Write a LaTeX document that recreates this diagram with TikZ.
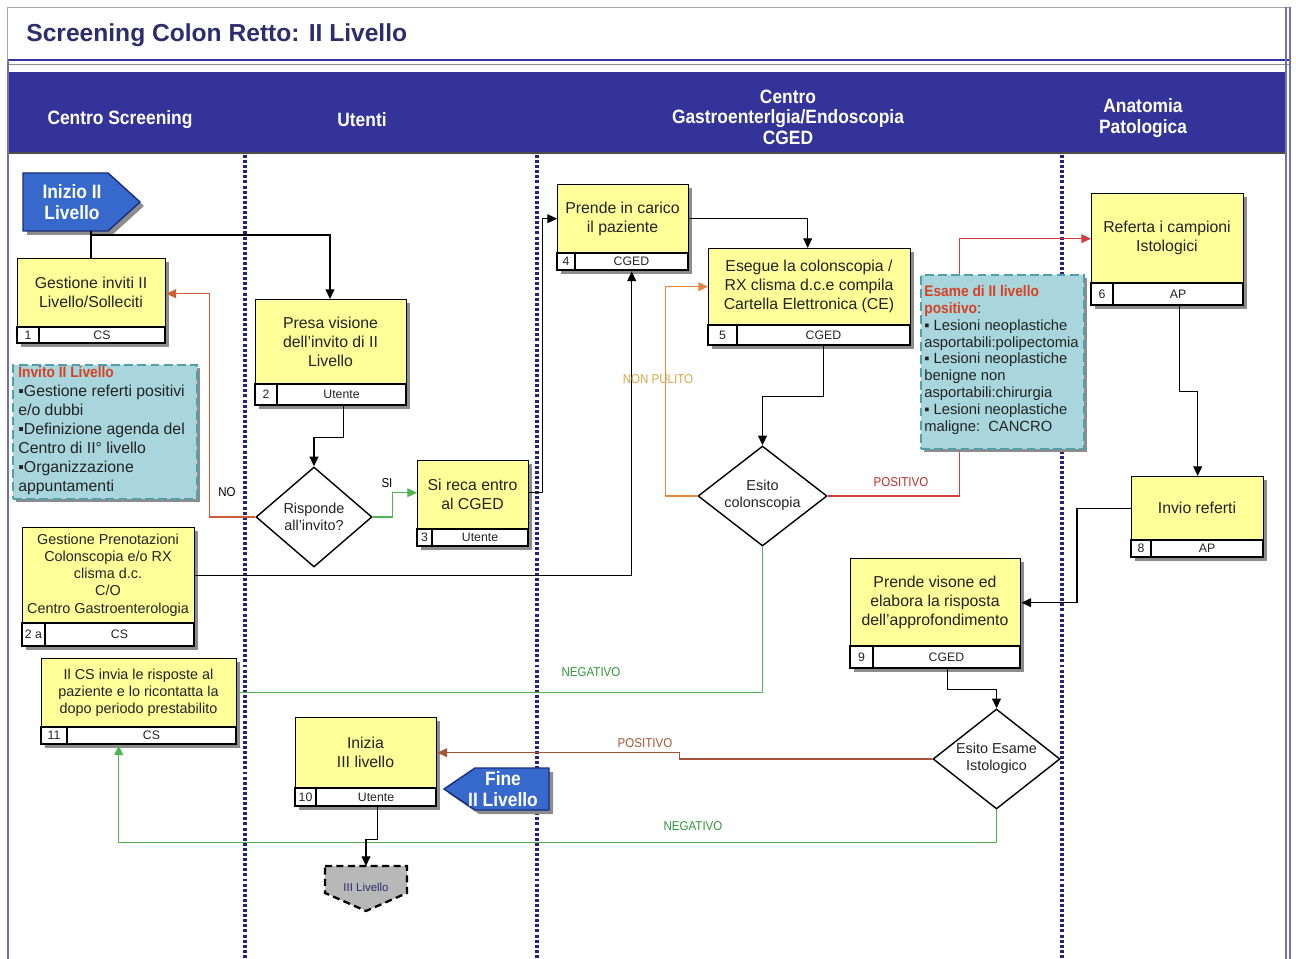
\documentclass[tikz,border=0pt]{standalone}
\usepackage{fontspec}
\setmainfont{Liberation Sans}
\newfontfamily\hdrfont{Liberation Sans}[FakeStretch=0.9]
\usetikzlibrary{arrows.meta,calc,shapes.geometric}
\definecolor{band}{RGB}{51,51,153}
\definecolor{titc}{RGB}{45,45,110}
\definecolor{boxy}{RGB}{255,255,153}
\definecolor{notef}{RGB}{168,214,220}
\definecolor{noted}{RGB}{80,160,172}
\definecolor{pentf}{RGB}{55,105,205}
\definecolor{pentd}{RGB}{25,45,120}
\definecolor{divc}{RGB}{35,35,130}
\definecolor{grn}{RGB}{80,180,80}
\definecolor{grnt}{RGB}{50,150,60}
\definecolor{nored}{RGB}{205,95,55}
\definecolor{orng}{RGB}{228,135,60}
\definecolor{orngt}{RGB}{215,165,70}
\definecolor{posred}{RGB}{215,60,60}
\definecolor{posredt}{RGB}{185,45,45}
\definecolor{brn}{RGB}{165,85,55}
\definecolor{ntitle}{RGB}{215,65,35}
\definecolor{shad}{RGB}{140,140,140}
\definecolor{txtc}{RGB}{35,35,35}
\def\bfsz{9}\def\bfsk{10.8}
\newcommand\pbox[9]{%
  \fill[shad] ($(#2,#3)+(4,4)$) rectangle ($(#4,#5)+(4,4)$);
  \node[pboxs, minimum width={(#4-#2)*0.02cm}, minimum height={(#5-#3)*0.02cm}, anchor=north west] (#1) at (#2,#3) {};
  \draw[line width=0.8pt, fill=white] (#2,#6) rectangle (#4,#5);
  \draw[line width=0.8pt] (#7,#6) -- (#7,#5);
  \node[strtxt] (#1n) at ({(#2+#7)/2},{(#6+#5)/2}) {#8};
  \node[strtxt] (#1o) at ({(#7+#4)/2},{(#6+#5)/2}) {#9};
  \node[btxt] (#1t) at ($(#2,#3)!0.5!(#4,#6)$)}
\begin{document}
\begin{tikzpicture}[x=0.02cm,y=-0.02cm,
  ln/.style={line width=0.75pt, draw=black},
  arr/.style={ln, -{Triangle[length=5.5pt,width=5pt]}},
  lnG/.style={line width=0.75pt, draw=grn},
  arrG/.style={lnG, -{Triangle[length=5.5pt,width=5pt]}},
  arrNO/.style={line width=0.75pt, draw=nored, -{Triangle[length=5.5pt,width=5pt]}},
  arrO/.style={line width=0.75pt, draw=orng, -{Triangle[length=5.5pt,width=5pt]}},
  arrR/.style={line width=0.75pt, draw=posred, -{Triangle[length=5.5pt,width=5pt]}},
  arrB/.style={line width=0.75pt, draw=brn, -{Triangle[length=5.5pt,width=5pt]}},
  pboxs/.style={rectangle, draw=black, line width=0.8pt, fill=boxy, inner sep=0pt},
  btxt/.style={font=\fontsize{\bfsz}{\bfsk}\selectfont, align=center, inner sep=0pt, text=txtc},
  strtxt/.style={font=\fontsize{7}{8}\selectfont, inner sep=0pt, text=txtc},
  dia/.style={diamond, draw=black, line width=0.8pt, fill=white, inner sep=0pt},
  dtxt/.style={font=\fontsize{8.2}{9.8}\selectfont, align=center, inner sep=0pt, text=txtc},
  lbl/.style={font=\hdrfont\fontsize{7.3}{8}\selectfont, inner sep=0pt},
  hdr/.style={font=\hdrfont\bfseries\fontsize{11}{11.7}\selectfont, text=white, align=center, inner sep=0pt},
  ptxt/.style={font=\hdrfont\bfseries\fontsize{11}{12}\selectfont, text=white, align=center, inner sep=0pt},
  divl/.style={draw=divc, line width=2pt, dash pattern=on 1.7pt off 1.2pt},
  notebox/.style={rectangle, fill=notef, draw=noted, line width=1.3pt, dash pattern=on 5pt off 2.5pt, inner sep=0pt, anchor=north west},
  ]
\useasboundingbox (0,0) rectangle (1296,959);
\fill[white] (0,0) rectangle (1296,959);
% frame and title
\draw[black!35, line width=0.5pt] (7,60) -- (7,7) -- (1290,7);
\node[anchor=west, inner sep=0pt, text=titc, font=\bfseries\fontsize{14}{16}\selectfont] (title) at (26,35) {Screening Colon Retto: II Livello};
\draw[band, line width=1.6pt] (8,60) -- (1290,60);
\draw[black!45, line width=0.5pt] (8,64) -- (1290,64);
\fill[band] (8,72) rectangle (1286,153);
\draw[black!70, line width=0.6pt] (8,153) -- (1286,153);
\draw[band!70, line width=0.6pt] (8,60) -- (8,959);
\draw[band!70, line width=0.6pt] (1286,7) -- (1286,959);
\draw[band!70, line width=0.6pt] (1290,7) -- (1290,959);
% headers
\node[hdr] (h1) at (120,120) {Centro Screening};
\node[hdr] (h2) at (362,120) {Utenti};
\node[hdr] (h3) at (788,117) {Centro\\Gastroenterlgia/Endoscopia\\CGED};
\node[hdr] (h4) at (1143,118) {Anatomia\\Patologica};
% lane dividers
\draw[divl] (245,155) -- (245,959);
\draw[divl] (537,155) -- (537,959);
\draw[divl] (1062,155) -- (1062,959);
% start pentagon
\fill[shad] (27,177) -- (112,177) -- (144,206) -- (112,235) -- (27,235) -- cycle;
\draw[fill=pentf, draw=pentd, line width=0.8pt] (23,173) -- (108,173) -- (140,202) -- (108,231) -- (23,231) -- cycle;
\node[ptxt] (ini) at (72,202) {Inizio II\\Livello};
\coordinate (inib) at (91,231);
\coordinate (j1) at (91,235);
% end pentagon
\fill[shad] (479,772) -- (553,772) -- (553,814) -- (479,814) -- (448,793) -- cycle;
\draw[fill=pentf, draw=pentd, line width=0.8pt] (475,768) -- (549,768) -- (549,810) -- (475,810) -- (444,789) -- cycle;
\node[ptxt] (fine) at (503,789) {Fine\\II Livello};
% III livello off-page
\draw[fill=black!28, draw=black, line width=1.3pt, dash pattern=on 4pt off 2.5pt] (325,866) -- (407,866) -- (407,893) -- (366,911) -- (325,893) -- cycle;
\node[inner sep=0pt, text=titc, font=\fontsize{6.5}{7}\selectfont] (iii) at (366,887) {III Livello};
\coordinate (iiit) at (366,866);
% connectors
\draw[ln] (inib) -- (91,258);
\draw[arr] (j1) -| (330,299);
% boxes
\pbox{b1}{17}{258}{165}{343}{327}{39}{1}{CS} {Gestione inviti II\\Livello/Solleciti};
\pbox{b2}{255}{299}{406}{405}{384}{277}{2}{Utente} {Presa visione\\dell'invito di II\\Livello};
\pbox{b3}{417}{460}{528}{546}{529}{432}{3}{Utente} {Si reca entro\\al CGED};
\pbox{b4}{557}{184}{688}{270}{253}{575}{4}{CGED} {Prende in carico\\il paziente};
\pbox{b5}{708}{248}{910}{345}{325}{737}{5}{CGED} {Esegue la colonscopia /\\RX clisma d.c.e compila\\Cartella Elettronica (CE)};
\pbox{b6}{1091}{193}{1243}{305}{283}{1113}{6}{AP} {Referta i campioni\\Istologici};
\pbox{b8}{1131}{476}{1263}{557}{540}{1151}{8}{AP} {Invio referti};
\pbox{b9}{850}{558}{1020}{668}{646}{873}{9}{CGED} {Prende visone ed\\elabora la risposta\\dell'approfondimento};
\pbox{b10}{295}{717}{436}{806}{788}{316}{10}{Utente} {Inizia\\III livello};
\def\bfsz{8.2}\def\bfsk{9.8}
\pbox{b2a}{22}{527}{194}{646}{623}{45}{2 a}{CS} {Gestione Prenotazioni\\Colonscopia e/o RX\\clisma d.c.\\C/O\\Centro Gastroenterologia};
\pbox{b11}{41}{658}{236}{744}{727}{67}{11}{CS} {Il CS invia le risposte al\\paziente e lo ricontatta la\\dopo periodo prestabilito};
% diamonds
\node[dia, minimum width={116*0.02cm}, minimum height={100*0.02cm}] (d1) at (314,517) {};
\node[dtxt] (d1t) at (314,517) {Risponde\\all'invito?};
\node[dia, minimum width={129*0.02cm}, minimum height={100*0.02cm}] (d2) at (762.5,496) {};
\node[dtxt] (d2t) at (762.5,495) {Esito\\colonscopia};
\node[dia, minimum width={127*0.02cm}, minimum height={100*0.02cm}] (d3) at (996.5,759) {};
\node[dtxt] (d3t) at (996.5,758) {Esito Esame\\Istologico};
% connectors
\draw[arr] ($(b2.south)+(12,0)$) -- ++(0,31) -| (d1.north);
\draw[arrG] (d1.east) -- ++(20,0) |- ($(b3.west)+(0,-11)$);
\draw[arrNO] (d1.west) -- ++(-46,0) |- ($(b1.east)+(0,-7.5)$);
\draw[arr] ($(b3.east)+(0,-11)$) -- ++(13,0) |- ($(b4.west)+(0,-9)$);
\draw[arr] ($(b4.east)+(0,-9)$) -| ($(b5.north)+(-2,0)$);
\draw[arr] ($(b2a.east)+(0,-11.5)$) -| ($(b4.south)+(8.5,0)$);
\draw[arr] ($(b5.south)+(14,0)$) -- ++(0,50) -| (d2.north);
\draw[arrO] (d2.west) -- ++(-32,0) |- ($(b5.west)+(0,-10.5)$);
\draw[arrR] (d2.east) -- ++(132,0) |- ($(b6.west)+(0,-11)$);
\draw[lnG] (d2.south) |- ($(b11.east)+(0,-9)$);
\draw[arr] ($(b6.south)+(12,0)$) -- ++(0,85) -| (b8.north);
\draw[arr] ($(b8.west)+(0,-8.5)$) -- ++(-54,0) |- ($(b9.east)+(0,-11)$);
\draw[arr] ($(b9.south)+(12,0)$) -- ++(0,20) -| (d3.north);
\draw[arrB] (d3.west) -- ++(-253,0) |- ($(b10.east)+(0,-9.5)$);
\draw[arrG] (d3.south) -- ++(0,33) -| ($(b11.south)+(-20.5,0)$);
\draw[arr] ($(b10.south)+(11.5,0)$) -- ++(0,32) -| (iiit);
% labels
\node[lbl, text=black] (lsi) at (387,483) {SI};
\node[lbl, text=black] (lno) at (227,492) {NO};
\node[lbl, text=orngt] (lnp) at (658,379) {NON PULITO};
\node[lbl, text=posredt] (lpos1) at (901,482) {POSITIVO};
\node[lbl, text=grnt] (lneg1) at (591,672) {NEGATIVO};
\node[lbl, text=brn] (lpos2) at (645,743) {POSITIVO};
\node[lbl, text=grnt] (lneg2) at (693,826) {NEGATIVO};
% notes
\fill[shad] (16,368) rectangle (200,502);
\node[notebox, minimum width={184*0.02cm}, minimum height={134*0.02cm}] (n1) at (12,364) {};
\node[anchor=north west, inner sep=0pt, align=left, text=txtc, font=\fontsize{9}{10.8}\selectfont] (n1t) at (18,366) {{\hdrfont\bfseries\color{ntitle}\fontsize{8.7}{10.8}\selectfont Invito II Livello}\\
\char"25AA Gestione referti positivi\\
e/o dubbi\\
\char"25AA Definizione agenda del\\
Centro di II° livello\\
\char"25AA Organizzazione\\
appuntamenti};
\fill[shad] (924,278) rectangle (1087,452);
\node[notebox, minimum width={163*0.02cm}, minimum height={174*0.02cm}] (n2) at (920,274) {};
\node[anchor=north west, inner sep=0pt, align=left, text=txtc, font=\fontsize{8.4}{9.6}\selectfont] (n2t) at (924,285) {{\hdrfont\bfseries\color{ntitle}\fontsize{8.7}{9.6}\selectfont Esame di II livello}\\
{\hdrfont\bfseries\color{ntitle}\fontsize{8.7}{9.6}\selectfont positivo}:\\
\char"25AA\ Lesioni neoplastiche\\
asportabili:polipectomia\\
\char"25AA\ Lesioni neoplastiche\\
benigne non\\
asportabili:chirurgia\\
\char"25AA\ Lesioni neoplastiche\\
maligne:\ \ CANCRO};
\end{tikzpicture}
\end{document}
